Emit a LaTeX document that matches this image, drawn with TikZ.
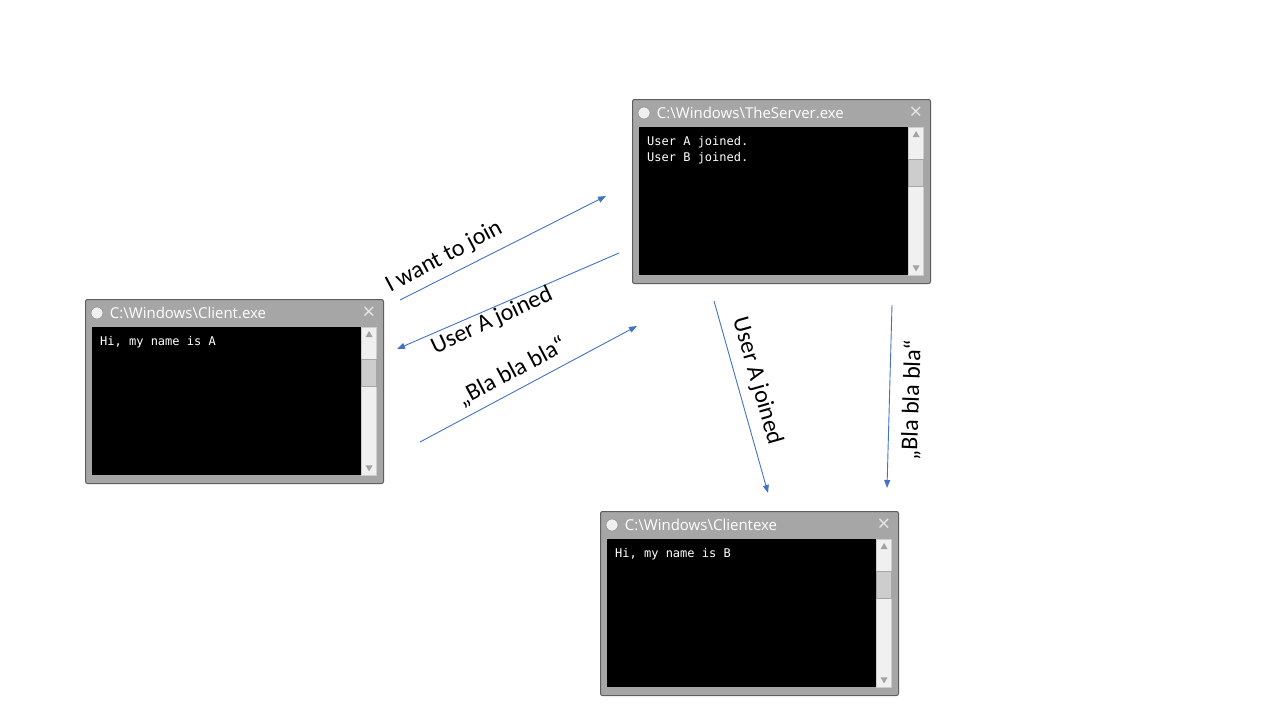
\documentclass[tikz,border=0pt]{standalone}
\usepackage{fontspec}
\setmainfont{Carlito}
\setmonofont{DejaVu Sans Mono}
\newfontfamily\winfont{Open Sans}
\usepackage{tikz}
\usepackage{xcolor}
\usetikzlibrary{positioning, arrows.meta}
\usetikzlibrary{shapes.geometric}

\definecolor{framegray}{HTML}{A6A6A6}
\definecolor{frameedge}{HTML}{5E5E5E}
\definecolor{barbg}{HTML}{F0F0F0}
\definecolor{thumbgray}{HTML}{CDCDCD}
\definecolor{tipgray}{HTML}{A3A3A3}
\definecolor{msgblue}{HTML}{4472C4}

\tikzset{
  winframe/.style={draw=frameedge, fill=framegray, line width=1pt, rounded corners=2pt, minimum width=298pt, minimum height=184pt, anchor=north west, inner sep=0pt},
  screen/.style={fill=black, minimum width=269pt, minimum height=148pt, inner sep=0pt},
  scrollbar/.style={fill=barbg, draw=thumbgray, minimum width=15pt, minimum height=148pt, inner sep=0pt},
  thumb/.style={fill=thumbgray, draw=gray!70, minimum width=15pt, minimum height=27pt, inner sep=0pt},
  scrolltip/.style={regular polygon, regular polygon sides=3, fill=tipgray, minimum size=8pt, inner sep=0pt},
  wintitle/.style={text=white, inner sep=0pt, font=\winfont\fontsize{15}{18}\selectfont},
  winbutton/.style={circle, draw=gray, fill=barbg, minimum size=12pt, inner sep=0pt},
  winclose/.style={text=barbg!90!gray, inner sep=0pt, font=\winfont\fontsize{22}{24}\selectfont},
  console/.style={text=white, align=left, inner sep=0pt, font=\ttfamily\fontsize{12}{16}\selectfont},
  msg/.style={draw=msgblue, line width=0.9pt, -{Triangle[length=8pt,width=6pt]}},
  msglabel/.style={font=\fontsize{24}{28}\selectfont, inner sep=0pt}
}

\begin{document}
\begin{tikzpicture}[x=1pt, y=-1pt]
            \path[fill=white, use as bounding box] (0,0) rectangle (1280,720);

            % client A
            \node[winframe] (cA) at (85,299) {};
            \node[screen, below right=28pt and 7pt of cA.north west] (cAscr) {};
            \node[scrollbar, below right=0pt and 0pt of cAscr.north east] (cAbar) {};
            \node[thumb, below right=32pt and 0pt of cAbar.north west] (cAthumb) {};
            \node[scrolltip, below=8pt of cAbar.north, anchor=center] (cAup) {};
            \node[scrolltip, shape border rotate=180, above=8pt of cAbar.south, anchor=center] (cAdown) {};
            \node[winbutton, below right=14pt and 12pt of cA.north west, anchor=center] (cAbtn) {};
            \node[wintitle, right=6.5pt of cAbtn] (cAtitle) {C:\textbackslash Windows\textbackslash Client.exe};
            \node[winclose, below left=14pt and 15pt of cA.north east, anchor=center] (cAclose) {×};
            \node[console, below right=9pt and 8pt of cAscr.north west] (cAtext) {Hi, my name is A};

            % server
            \node[winframe] (srv) at (632,99) {};
            \node[screen, below right=28pt and 7pt of srv.north west] (srvscr) {};
            \node[scrollbar, below right=0pt and 0pt of srvscr.north east] (srvbar) {};
            \node[thumb, below right=32pt and 0pt of srvbar.north west] (srvthumb) {};
            \node[scrolltip, below=8pt of srvbar.north, anchor=center] (srvup) {};
            \node[scrolltip, shape border rotate=180, above=8pt of srvbar.south, anchor=center] (srvdown) {};
            \node[winbutton, below right=14pt and 12pt of srv.north west, anchor=center] (srvbtn) {};
            \node[wintitle, right=6.5pt of srvbtn] (srvtitle) {C:\textbackslash Windows\textbackslash TheServer.exe};
            \node[winclose, below left=14pt and 15pt of srv.north east, anchor=center] (srvclose) {×};
            \node[console, below right=9pt and 8pt of srvscr.north west] (srvtext) {User A joined.\\User B joined.};

            % client B
            \node[winframe] (cB) at (600,511) {};
            \node[screen, below right=28pt and 7pt of cB.north west] (cBscr) {};
            \node[scrollbar, below right=0pt and 0pt of cBscr.north east] (cBbar) {};
            \node[thumb, below right=32pt and 0pt of cBbar.north west] (cBthumb) {};
            \node[scrolltip, below=8pt of cBbar.north, anchor=center] (cBup) {};
            \node[scrolltip, shape border rotate=180, above=8pt of cBbar.south, anchor=center] (cBdown) {};
            \node[winbutton, below right=14pt and 12pt of cB.north west, anchor=center] (cBbtn) {};
            \node[wintitle, right=6.5pt of cBbtn] (cBtitle) {C:\textbackslash Windows\textbackslash Clientexe};
            \node[winclose, below left=14pt and 15pt of cB.north east, anchor=center] (cBclose) {×};
            \node[console, below right=9pt and 8pt of cBscr.north west] (cBtext) {Hi, my name is B};

            % messages
            \coordinate (joinS) at (400,300);
            \coordinate (joinE) at (606,196);
            \coordinate (ackS) at (619,253);
            \coordinate (ackE) at (397,349);
            \coordinate (blaS) at (420,442);
            \coordinate (blaE) at (637,326);
            \coordinate (fwdS) at (714,301);
            \coordinate (fwdE) at (768,493);
            \coordinate (fblaS) at (892,305);
            \coordinate (fblaE) at (887,488);

            \draw[msg] (joinS) -- (joinE);
            \draw[msg] (ackS) -- (ackE);
            \draw[msg] (blaS) -- (blaE);
            \draw[msg] (fwdS) -- (fwdE);
            \draw[msg] (fblaS) -- (fblaE);

            \node[msglabel, rotate=28] (lJoin) at (444,257) {I want to join};
            \node[msglabel, rotate=25] (lAck) at (492,321) {User A joined};
            \node[msglabel, rotate=28] (lBla) at (512,372) {„Bla bla bla“};
            \node[msglabel, rotate=-74] (lFwd) at (757,381) {User A joined};
            \node[msglabel, rotate=88] (lFbla) at (912,400) {„Bla bla bla“};
        \end{tikzpicture}
\end{document}
